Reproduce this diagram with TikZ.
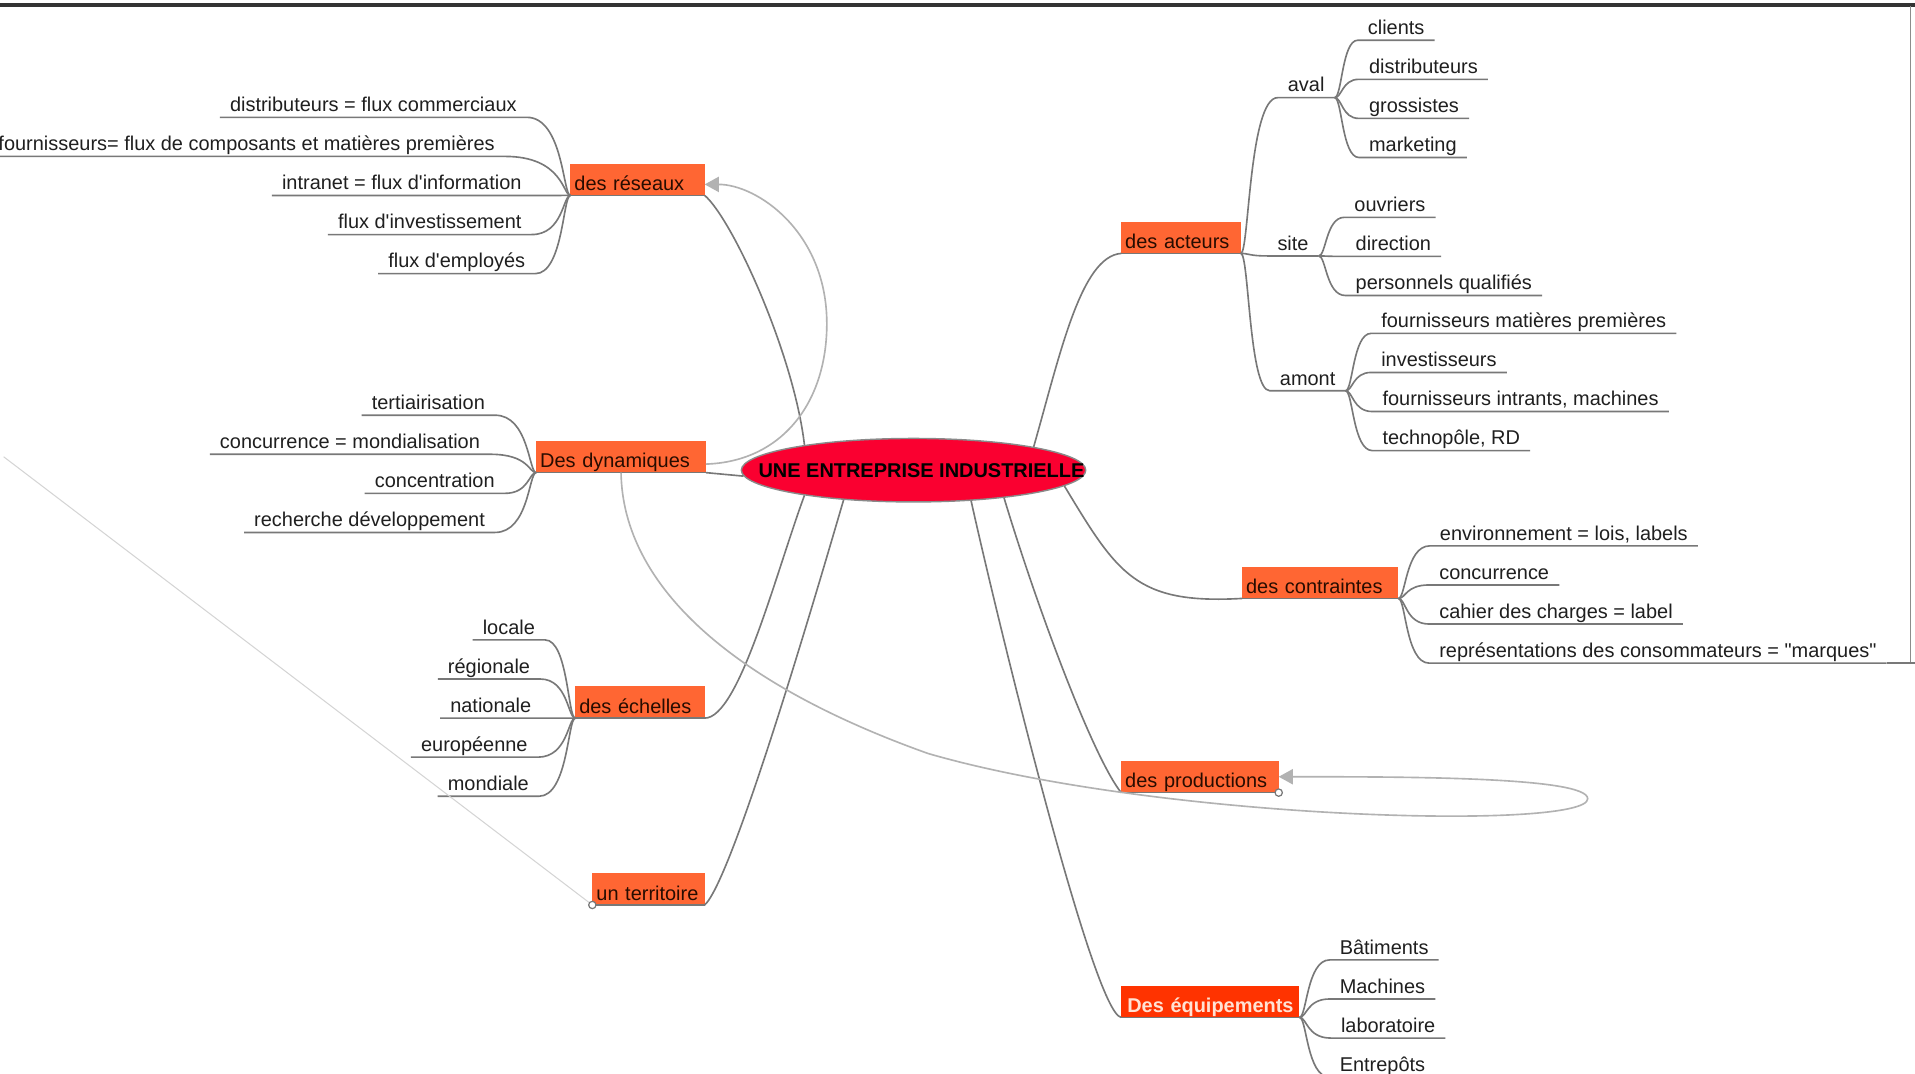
\documentclass[tikz,border=0pt]{standalone}
\usepackage{fontspec}
\setmainfont{Liberation Sans}
\usetikzlibrary{shapes.geometric,arrows.meta}

\definecolor{boxorange}{RGB}{255,102,51}
\definecolor{boxred}{RGB}{255,51,0}
\definecolor{boxpale}{RGB}{255,226,212}
\definecolor{boxtext}{RGB}{40,12,0}
\definecolor{hubred}{RGB}{250,0,48}
\definecolor{hubrim}{RGB}{138,138,138}
\definecolor{linkgray}{RGB}{120,120,120}
\definecolor{relgray}{RGB}{178,178,178}
\definecolor{faintgray}{RGB}{212,212,212}

\newcommand{\mapfont}{\fontsize{9.8pt}{11pt}\selectfont}

\tikzset{
    hub/.style={ellipse, fill=hubred, draw=hubrim, line width=0.7pt,
        minimum width=169.2pt, minimum height=31.2pt, inner sep=0pt,
        font=\mapfont\bfseries},
    branch/.style={fill=boxorange, anchor=south west, inner xsep=2pt,
        inner ysep=0pt, outer sep=0pt, minimum height=15.6pt,
        text height=13.2pt, text depth=2.4pt, align=left,
        text=boxtext, font=\mapfont},
    hotbranch/.style={branch, fill=boxred, text=boxpale,
        inner xsep=3pt, font=\mapfont\bfseries},
    leaf/.style={inner xsep=5pt, inner ysep=0.5pt, outer sep=0pt,
        text height=7pt, text depth=2.3pt, text=black!88, font=\mapfont},
    leftleaf/.style={leaf, anchor=base east, xshift=5pt},
    rightleaf/.style={leaf, anchor=base west, xshift=-5pt},
    link/.style={draw=linkgray, line width=0.8pt},
    relation/.style={draw=relgray, line width=0.8pt,
        -{Triangle[length=7pt,width=7.5pt]}},
    knob/.style={circle, draw=linkgray, fill=white, line width=0.6pt,
        minimum size=3.6pt, inner sep=0pt},
}

\begin{document}
\begin{tikzpicture}[x=0.6pt, y=-0.6pt]

% Canvas
\path[use as bounding box, fill=white] (0,0) rectangle (1568,879);
\coordinate (TopLeft) at (0,4);
\coordinate (TopRight) at (1568,4);
\coordinate (FrameTop) at (1564,5);
\coordinate (FrameFoot) at (1564,543);
\coordinate (FarEdge) at (3,374);
\draw[line width=1.6pt, black!80] (TopLeft) -- (TopRight);
\draw[line width=0.5pt, black!45] (FrameTop) -- (FrameFoot);

% Central topic
\node[hub] (ent) at (748,385)
    {\makebox[0pt]{\hspace{7.8pt}UNE ENTREPRISE INDUSTRIELLE}};

% Main topics
\node[branch, text width=62pt] (res) at (467,160) {des réseaux};
\node[branch, text width=79.4pt] (dyn) at (439,387) {Des dynamiques};
\node[branch, text width=59.6pt] (ech) at (471,588) {des échelles};
\node[branch, text width=51.2pt] (ter) at (485,741) {un territoire};
\node[branch, text width=54.8pt] (act) at (918,207.5) {des acteurs};
\node[branch, text width=72.8pt] (con) at (1017,490) {des contraintes};
\node[branch, text width=73.4pt] (pro) at (918,649) {des productions};
\node[hotbranch, text width=81.6pt] (equ) at (918,833) {\mbox{Des équipements}};

\foreach \b in {res,dyn,ech,ter,act,con,pro,equ}
{
    \draw[link] (\b.south west) -- (\b.south east);
}

% Central links
\draw[link] (ent.167) .. controls (650,290) and (600,180) .. (res.south east);
\draw[link] (ent.182) -- (dyn.south east);
\draw[link] (ent.193) .. controls (635,470) and (605,588) .. (ech.south east);
\draw[link] (ent.203) .. controls (670,480) and (600,720) .. (ter.south east);
\draw[link] (ent.11) .. controls (868,290) and (885,210) .. (act.south west);
\draw[link] (ent.354) .. controls (915,470) and (930,495) .. (con.south west);
\draw[link] (ent.343) .. controls (850,500) and (895,620) .. (pro.south west);
\draw[link] (ent.332) .. controls (815,500) and (895,830) .. (equ.south west);

% Reseaux leaves
\coordinate (Res-bend) at ([xshift=-3.6pt]res.south west);
\foreach \i/\xr/\yb/\txt in {
    1/423/91.4/{distributeurs = flux commerciaux},
    2/405/123.4/{fournisseurs= flux de composants et matières premières},
    3/427/155.4/{intranet = flux d\textquotesingle information},
    4/427/187.4/{flux d\textquotesingle investissement},
    5/430/219.4/{flux d\textquotesingle employés}}
{
    \node[leftleaf] (Res-\i) at (\xr,\yb) {\txt};
    \draw[link] (res.south west) .. controls (Res-bend) and (Res-bend |- Res-\i.south east)
        .. (Res-\i.south east) -- (Res-\i.south west);
}

% Dynamiques leaves
\coordinate (Dyn-bend) at ([xshift=-3.6pt]dyn.south west);
\foreach \i/\xr/\yb/\txt in {
    1/397/335.3/{tertiairisation},
    2/393/367.3/{concurrence = mondialisation},
    3/405/399.3/{concentration},
    4/397/431.3/{recherche développement}}
{
    \node[leftleaf] (Dyn-\i) at (\xr,\yb) {\txt};
    \draw[link] (dyn.south west) .. controls (Dyn-bend) and (Dyn-bend |- Dyn-\i.south east)
        .. (Dyn-\i.south east) -- (Dyn-\i.south west);
}

% Echelles leaves
\coordinate (Ech-bend) at ([xshift=-3.6pt]ech.south west);
\foreach \i/\xr/\yb/\txt in {
    1/438/519.3/{locale},
    2/434/551.3/{régionale},
    3/435/583.3/{nationale},
    4/432/615.3/{européenne},
    5/433/647.3/{mondiale}}
{
    \node[leftleaf] (Ech-\i) at (\xr,\yb) {\txt};
    \draw[link] (ech.south west) .. controls (Ech-bend) and (Ech-bend |- Ech-\i.south east)
        .. (Ech-\i.south east) -- (Ech-\i.south west);
}

% Acteurs sub topics
\coordinate (Act-bend) at ([xshift=4pt]act.south east);
\foreach \n/\xl/\yb/\txt in {aval/1054.5/75.3/aval, site/1046/204.9/site, amont/1048/315.3/amont}
{
    \node[rightleaf] (\n) at (\xl,\yb) {\txt};
    \draw[link] (act.south east) .. controls (Act-bend) and (Act-bend |- \n.south west)
        .. (\n.south west) -- (\n.south east);
}

% Aval leaves
\coordinate (Aval-bend) at ([xshift=3.6pt]aval.south east);
\foreach \i/\xl/\yb/\txt in {
    1/1120/28.3/{clients},
    2/1121/60.3/{distributeurs},
    3/1121/92.3/{grossistes},
    4/1121/124.3/{marketing}}
{
    \node[rightleaf] (Aval-\i) at (\xl,\yb) {\txt};
    \draw[link] (aval.south east) .. controls (Aval-bend) and (Aval-bend |- Aval-\i.south west)
        .. (Aval-\i.south west) -- (Aval-\i.south east);
}

% Site leaves
\coordinate (Site-bend) at ([xshift=3.6pt]site.south east);
\foreach \i/\xl/\yb/\txt in {
    1/1109/173.3/{ouvriers},
    2/1110/205.3/{direction},
    3/1110/237.3/{personnels qualifiés}}
{
    \node[rightleaf] (Site-\i) at (\xl,\yb) {\txt};
    \draw[link] (site.south east) .. controls (Site-bend) and (Site-bend |- Site-\i.south west)
        .. (Site-\i.south west) -- (Site-\i.south east);
}

% Amont leaves
\coordinate (Amont-bend) at ([xshift=3.6pt]amont.south east);
\foreach \i/\xl/\yb/\txt in {
    1/1131/268.3/{fournisseurs matières premières},
    2/1131/300.3/{investisseurs},
    3/1132/332.3/{fournisseurs intrants, machines},
    4/1132/364.3/{technopôle, RD}}
{
    \node[rightleaf] (Amont-\i) at (\xl,\yb) {\txt};
    \draw[link] (amont.south east) .. controls (Amont-bend) and (Amont-bend |- Amont-\i.south west)
        .. (Amont-\i.south west) -- (Amont-\i.south east);
}

% Contraintes leaves
\coordinate (Con-bend) at ([xshift=3.6pt]con.south east);
\foreach \i/\xl/\yb/\txt in {
    1/1179/442.3/{environnement = lois, labels},
    2/1178.5/474.3/{concurrence},
    3/1178.5/506.3/{cahier des charges = label},
    4/1178.5/538.3/{représentations des consommateurs = \textquotedbl marques\textquotedbl}}
{
    \node[rightleaf] (Con-\i) at (\xl,\yb) {\txt};
    \draw[link] (con.south east) .. controls (Con-bend) and (Con-bend |- Con-\i.south west)
        .. (Con-\i.south west) -- (Con-\i.south east);
}
\draw[link] (Con-4.south east) -- (Con-4.south east -| TopRight);

% Equipements leaves
\coordinate (Equ-bend) at ([xshift=3.6pt]equ.south east);
\foreach \i/\xl/\yb/\txt in {
    1/1097/781.3/{Bâtiments},
    2/1097/813.3/{Machines},
    3/1098/845.3/{laboratoire},
    4/1097/877.3/{Entrepôts}}
{
    \node[rightleaf] (Equ-\i) at (\xl,\yb) {\txt};
    \draw[link] (equ.south east) .. controls (Equ-bend) and (Equ-bend |- Equ-\i.south west)
        .. (Equ-\i.south west) -- (Equ-\i.south east);
}

% Relations
\draw[relation] ([yshift=-3.6pt]dyn.east) .. controls (640,378) and (677,330) .. (677,265)
    .. controls (677,190) and (620,151) .. ([yshift=-2.4pt]res.east);
\draw[relation] (dyn.south) .. controls (510,480) and (600,560) .. (760,617)
    .. controls (950,672) and (1300,680) .. (1300,654)
    .. controls (1300,636) and (1150,636) .. (pro.east);
\draw[draw=faintgray, line width=0.5pt] (FarEdge) -- (ter.south west);
\node[knob] (ter-knob) at (ter.south west) {};
\node[knob] (pro-knob) at (pro.south east) {};

\end{tikzpicture}
\end{document}
